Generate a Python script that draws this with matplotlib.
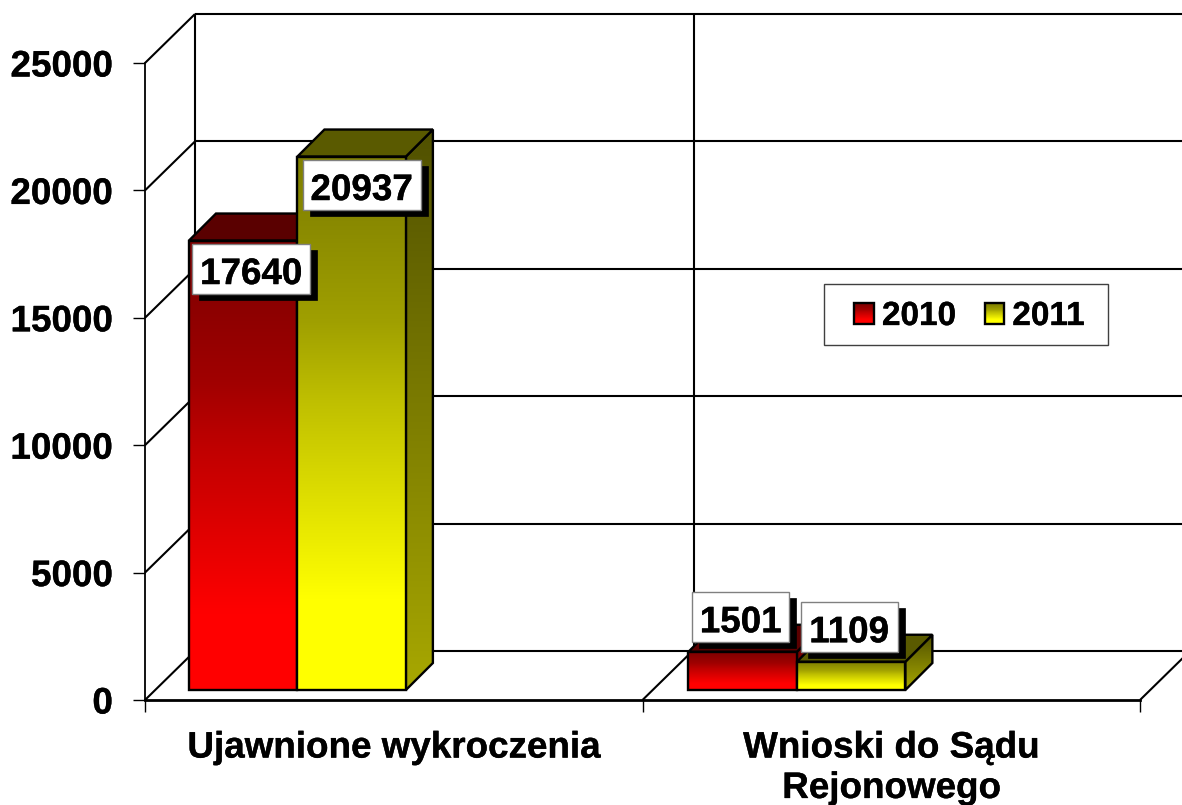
import numpy as np
import matplotlib
matplotlib.use("Agg")
import matplotlib.pyplot as plt
import matplotlib.patheffects as pe
from matplotlib.colors import to_rgb
from matplotlib.legend_handler import HandlerBase
from matplotlib.patches import Polygon, Rectangle
from matplotlib.transforms import IdentityTransform

plt.rcParams['font.family'] = ['Liberation Sans', 'DejaVu Sans']
plt.rcParams['font.weight'] = 'bold'

categories = ["Ujawnione wykroczenia", "Wnioski do Sądu\nRejonowego"]
years = ["2010", "2011"]
values_2010 = [17640, 1501]
values_2011 = [20937, 1109]
y_ticks = [0, 5000, 10000, 15000, 20000, 25000]

W, H = 1182, 805
LW = 1.7
WALL_DX, WALL_DY = 50, 49
FRONT_DX, FRONT_DY = 10, 10
BAR_DEPTH = 27
BAR_START = [0.0683, 0.0723]
BAR_W = 0.218
BOLD = [pe.withStroke(linewidth=0.25, foreground="black")]

# colours: bottom of the front, top of the front, side bottom, side top, roof
RED = ["#ff0000", "#800000", "#a60000", "#500000", "#5a0000"]
YEL = ["#ffff00", "#808000", "#a8a800", "#505000", "#5a5a00"]
# how the front faces fade from bottom to top
FADE_POS = [0, 0.17, 0.54, 0.69, 0.88, 1]
FADE_MIX = [0, 0, 0.5, 0.75, 0.93, 1]

fig = plt.figure(figsize=(W / 100, H / 100), dpi=100)
ax = fig.add_axes([0, 0, 1, 1])
ax.patch.set_alpha(0)

# x: -0.5 -> 145 px, 1.5 -> 1140 px; y: 0 -> 700 px, 25000 -> 63 px (from top)
x_scale = (1140 - 145) / 2
y_scale = (700 - 63) / 25000
xlim = (-0.5 - 145 / x_scale, 1.5 + (W - 1140) / x_scale)
ylim = (-(H - 700) / y_scale, 700 / y_scale)
ax.set_xlim(xlim)
ax.set_ylim(ylim)


def disp(x, y):
    return ax.transData.transform((x, y))


def gradient(c_bottom, c_top, fade=False):
    t = np.linspace(0, 1, 256)
    if fade:
        t = np.interp(t, FADE_POS, FADE_MIX)
    t = t[:, None, None]
    return (1 - t) * np.array(to_rgb(c_bottom))[None, None, :] + t * np.array(to_rgb(c_top))[None, None, :]


def wall_line(p0, p1, z=1):
    ax.plot([p0[0], p1[0]], [p0[1], p1[1]], color="black", lw=LW - 0.2, transform=IdentityTransform(),
            solid_capstyle="butt", zorder=z, clip_on=False)


def gradient_face(pts, c_bottom, c_top, z, fade=False):
    pts = np.array(pts)
    face = Polygon(pts, closed=True, facecolor="none", edgecolor="none", transform=IdentityTransform())
    ax.add_patch(face)
    im = ax.imshow(gradient(c_bottom, c_top, fade), origin="lower", aspect="auto", interpolation="bilinear",
                   extent=(pts[:, 0].min(), pts[:, 0].max(), pts[:, 1].min(), pts[:, 1].max()),
                   transform=IdentityTransform(), zorder=z)
    im.set_clip_path(face)
    ax.add_patch(Polygon(pts, closed=True, facecolor="none", edgecolor="black", lw=LW,
                         transform=IdentityTransform(), zorder=z + 0.1, joinstyle="miter"))


def bar3d(x0, width, value, cols, z):
    p = disp(x0, 0) + (FRONT_DX, FRONT_DY)
    q = disp(x0 + width, value) + (FRONT_DX, FRONT_DY)
    l, b, r, t = p[0], p[1], q[0], q[1]
    d = BAR_DEPTH
    gradient_face([(r, b), (r + d, b + d), (r + d, t + d), (r, t)], cols[2], cols[3], z)
    ax.add_patch(Polygon([(l, t), (r, t), (r + d, t + d), (l + d, t + d)], closed=True, facecolor=cols[4],
                         edgecolor="black", lw=LW, transform=IdentityTransform(), zorder=z + 0.2))
    gradient_face([(l, b), (r, b), (r, t), (l, t)], cols[0], cols[1], z + 0.3, fade=True)


def value_box(x, value, off_x, off_y):
    cx, cy = disp(x, value) + (FRONT_DX, FRONT_DY) + (off_x, off_y)
    w = 118 if value > 9999 else 97
    h = 50
    ax.add_patch(Rectangle((cx - w / 2 + 7, cy - h / 2 - 6), w, h, facecolor="black", edgecolor="black",
                           lw=0.5, transform=IdentityTransform(), zorder=20))
    ax.add_patch(Rectangle((cx - w / 2, cy - h / 2), w, h, facecolor="white", edgecolor="#808080",
                           lw=1, transform=IdentityTransform(), zorder=21))
    ax.text(cx, cy - 2, str(value), ha="center", va="center_baseline", fontsize=26.5, fontweight="bold",
            color="black", transform=IdentityTransform(), zorder=22, path_effects=BOLD)


# walls and floor
x_back_left = disp(-0.5, 0) + (WALL_DX, WALL_DY)
x_back_right = disp(1.5, 0) + (WALL_DX, WALL_DY)
for v in y_ticks:
    a = disp(-0.5, v)
    b = a + (WALL_DX, WALL_DY)
    wall_line(a, b)
    wall_line(b, (x_back_right[0], b[1]))
top_y = disp(-0.5, 25000)[1] + WALL_DY
wall_line(x_back_left, (x_back_left[0], top_y))
mid = disp(0.5, 0) + (WALL_DX + 1.5, WALL_DY)
wall_line(mid, (mid[0], top_y))
for c in [0.5, 1.5]:
    a = disp(c, 0)
    wall_line(a, a + (WALL_DX, WALL_DY))

# bars
for i in range(len(categories)):
    bar3d(i - 0.5 + BAR_START[i], BAR_W, values_2010[i], RED, 5)
    bar3d(i - 0.5 + BAR_START[i] + BAR_W, BAR_W, values_2011[i], YEL, 6)

offsets_2010 = [(8, -28), (-2, 35)]
offsets_2011 = [(10, -28), (-2, 35)]
for i in range(len(categories)):
    value_box(i - 0.5 + BAR_START[i] + BAR_W / 2, values_2010[i], *offsets_2010[i])
    value_box(i - 0.5 + BAR_START[i] + BAR_W * 1.5, values_2011[i], *offsets_2011[i])

# axes
for s in ["top", "right"]:
    ax.spines[s].set_visible(False)
ax.spines["left"].set_position(("data", -0.5))
ax.spines["left"].set_bounds(0, 25000)
ax.spines["left"].set_linewidth(1.3)
ax.spines["bottom"].set_position(("data", 0))
ax.spines["bottom"].set_bounds(-0.5, 1.5)
ax.spines["bottom"].set_linewidth(LW + 0.3)
ax.set_yticks(y_ticks)
ax.set_xticks([-0.5, 0.5, 1.5])
ax.set_xticklabels([])
ax.set_xticks([0, 1], categories, minor=True)
ax.tick_params(axis="y", length=8.6, width=1, pad=14.5, labelsize=26.5)
ax.tick_params(axis="x", which="major", length=8.6, width=1)
ax.tick_params(axis="x", which="minor", length=0, pad=22, labelsize=26.5)
for lab in ax.get_xticklabels(minor=True):
    lab.set_linespacing(1.2)
for lab in ax.get_yticklabels():
    lab.set_verticalalignment("center_baseline")
for lab in ax.get_xticklabels(minor=True) + ax.get_yticklabels():
    lab.set_fontweight("bold")
    lab.set_path_effects(BOLD)


# legend
class GradientHandler(HandlerBase):
    def create_artists(self, legend, orig, xd, yd, width, height, fontsize, trans):
        strips = []
        n = 20
        for k in range(n):
            col = gradient(orig[0], orig[1], True)[int(255 * k / (n - 1)), 0]
            strips.append(Rectangle((-xd, -yd + height * (1 - (n - k) / n)), width, height / n, facecolor=col,
                                    edgecolor=col, lw=0.2, transform=trans))
        strips.append(Rectangle((-xd, -yd), width, height, facecolor="none", edgecolor="black", lw=LW, transform=trans))
        return strips


fig.add_artist(Rectangle((824 / W, 1 - 345 / H), (1108 - 824) / W, (345 - 284) / H, facecolor="white",
                         edgecolor="#404040", lw=1, transform=fig.transFigure, zorder=10))
leg = ax.legend([("#ff0000", "#800000"), ("#ffff00", "#808000")], years, handler_map={tuple: GradientHandler()},
                ncol=2, frameon=False, loc="center", bbox_to_anchor=(969.5 / W, 1 - 316.5 / H),
                bbox_transform=fig.transFigure, fontsize=24, handlelength=0.58, handleheight=0.58,
                handletextpad=0.25, columnspacing=0.85, borderpad=0, borderaxespad=0)
leg.set_zorder(11)
fig.add_artist(leg)
for t in leg.get_texts():
    t.set_fontweight("bold")
    t.set_path_effects(BOLD)

ax.set_xlim(xlim)
ax.set_ylim(ylim)
fig.savefig("out.png", dpi=100)
